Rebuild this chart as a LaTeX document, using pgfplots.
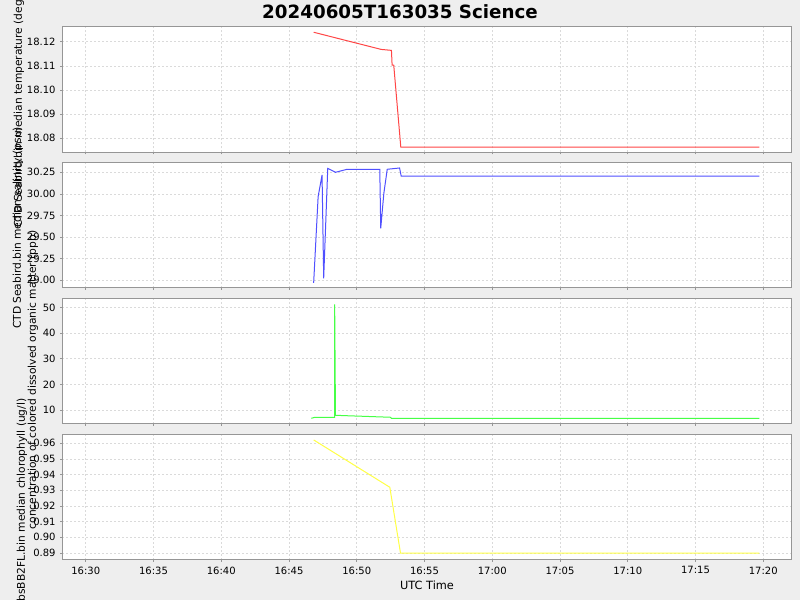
\documentclass[border=0pt]{standalone}
\usepackage{fontspec}
\setmainfont{DejaVu Sans}
\usepackage{pgfplots}
\pgfplotsset{compat=1.18}
\definecolor{bg}{RGB}{238,238,238}
\definecolor{gridc}{RGB}{218,218,218}
\definecolor{bordc}{RGB}{150,150,150}
\definecolor{lred}{RGB}{255,70,70}
\definecolor{lblue}{RGB}{80,80,255}
\definecolor{lgreen}{RGB}{70,255,70}
\definecolor{lyellow}{RGB}{255,255,70}
\pgfplotsset{
  panel/.style={
    scale only axis, width=547.05pt, height=94.25pt, anchor=north west,
    xmin=28.27, xmax=82.1, xtick={30,35,...,80},
    axis background/.style={fill=white},
    grid=major,
    grid style={dash pattern=on 1.5pt off 1.5pt, color=gridc, line width=0.5pt},
    axis line style={draw=bordc, line width=0.8pt},
    tick style={draw=bordc, line width=0.5pt},
    tick align=outside, major tick length=1.5pt,
    xtick pos=bottom, ytick pos=left,
    ticklabel style={font=\fontsize{7.5}{9}\selectfont, text=black},
    /pgf/number format/assume math mode=true,
    xticklabels={},
  }
}
\begin{document}
\begin{tikzpicture}
\useasboundingbox (0,0) rectangle (600pt,450pt);
\fill[bg] (0,0) rectangle (600pt,450pt);

% Panel 1: temperature
\begin{axis}[panel, at={(46.73pt,429.98pt)},
  ymin=18.0742, ymax=18.1262,
  ytick={18.08,18.09,18.10,18.11,18.12},
  yticklabels={18.08,18.09,18.10,18.11,18.12}]
\addplot[color=lred, line width=0.75pt] coordinates {
(46.82,18.1239) (51.80,18.1168) (52.56,18.1164) (52.61,18.1103)
(52.73,18.1103) (53.25,18.0764) (79.71,18.0764)};
\end{axis}

% Panel 2: salinity
\begin{axis}[panel, at={(46.73pt,328.28pt)},
  ymin=28.911, ymax=30.366,
  ytick={29.00,29.25,29.50,29.75,30.00,30.25},
  yticklabels={29.00,29.25,29.50,29.75,30.00,30.25}]
\addplot[color=lblue, line width=0.75pt] coordinates {
(46.82,28.97) (47.15,29.968) (47.44,30.219) (47.56,29.023) (47.86,30.296)
(48.43,30.25) (49.29,30.285) (51.70,30.285) (51.77,29.602) (52.00,30.007)
(52.25,30.285) (53.16,30.30) (53.28,30.207) (79.71,30.207)};
\end{axis}

% Panel 3: CDOM
\begin{axis}[panel, at={(46.73pt,226.28pt)},
  ymin=4.53, ymax=53.67,
  ytick={10,20,30,40,50},
  yticklabels={10,20,30,40,50}]
\addplot[color=lgreen, line width=0.75pt] coordinates {
(46.65,6.75) (46.92,7.15) (48.37,7.15) (48.37,51.3) (48.43,7.93)
(49.00,7.8) (52.49,7.15) (52.56,6.75) (79.71,6.75)};
\end{axis}

% Panel 4: chlorophyll
\begin{axis}[panel, at={(46.73pt,124.28pt)},
  ymin=0.8855, ymax=0.9657,
  ytick={0.89,0.90,0.91,0.92,0.93,0.94,0.95,0.96},
  yticklabels={0.89,0.90,0.91,0.92,0.93,0.94,0.95,0.96},
  xticklabels={16:30,16:35,16:40,16:45,16:50,16:55,17:00,17:05,17:10,17:15,17:20}]
\addplot[color=lyellow, line width=0.75pt] coordinates {
(46.82,0.9621) (52.44,0.9319) (53.23,0.8898) (79.71,0.8898)};
\end{axis}

% Titles and labels
\node[font=\fontsize{13.7}{16}\selectfont\bfseries, inner sep=0] at (300pt,441pt) {20240605T163035 Science};
\node[font=\fontsize{8.5}{10}\selectfont, inner sep=0] at (320.25pt,11.25pt) {UTC Time};
\node[font=\fontsize{8}{10}\selectfont, inner sep=0, rotate=90] at (14.25pt,369pt) {CTD Seabird.bin median temperature (degC)};
\node[font=\fontsize{8}{10}\selectfont, inner sep=0, rotate=90] at (13.5pt,279pt) {CTD Seabird.bin median salinity (psu)};
\node[font=\fontsize{8}{10}\selectfont, inner sep=0, rotate=90] at (24.75pt,165pt) {concentration of colored dissolved organic matter (ppb)};
\node[font=\fontsize{8}{10}\selectfont, inner sep=0, rotate=90] at (16.5pt,75pt) {bsBB2FL.bin median chlorophyll (ug/l)};
\end{tikzpicture}
\end{document}
